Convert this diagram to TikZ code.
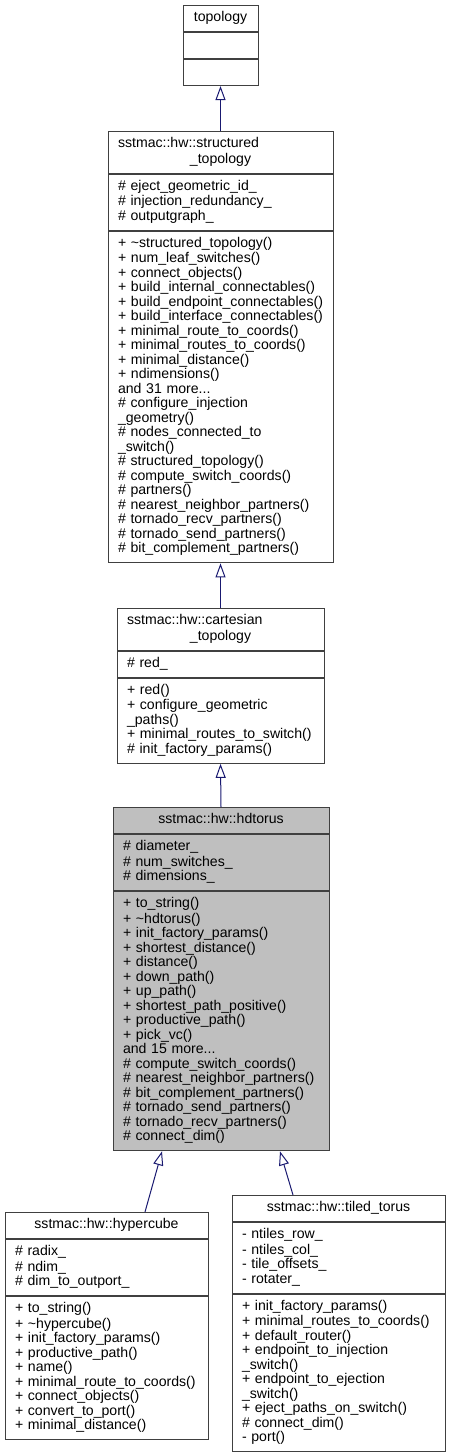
\documentclass[tikz,border=0pt]{standalone}
\usepackage{fontspec}
\setmainfont{Liberation Sans}
\usepackage{tikz}
\usetikzlibrary{arrows.meta,positioning}
\definecolor{edgeblue}{HTML}{191970}
\definecolor{boxline}{HTML}{404040}
\definecolor{focusfill}{HTML}{BFBFBF}
\hyphenpenalty=10000
\exhyphenpenalty=10000

\begin{document}
\begin{tikzpicture}[x=1pt,y=-1pt,
  every node/.style={font=\fontsize{14.1}{14.5}\selectfont},
  part/.style={draw=boxline,line width=1pt,rectangle,inner xsep=10pt,inner ysep=5.75pt,align=left,
    execute at begin node=\strut,execute at end node=\strut},
  title/.style={part,align=center},
  focus/.style={fill=focusfill},
  inherit/.style={draw=edgeblue,line width=1pt,-{Triangle[open,length=14pt,width=10pt]}}]
\useasboundingbox (0,0) rectangle (448,1455);

\node[title,text width=55pt,anchor=north] (topo) at (220.5,5) {topology};
\node[part,text width=55pt,below=0pt of topo] (topoAttr) {};
\node[part,text width=55pt,below=0pt of topoAttr] (topoOps) {};

\node[title,text width=205pt,anchor=north] (struct) at (220.5,131) {\makebox[\linewidth][l]{sstmac::hw::structured}\\\_topology};
\node[part,text width=205pt,below=0pt of struct] (structAttr) {\#~eject\_geometric\_id\_\\\#~injection\_redundancy\_\\\#~outputgraph\_};
\node[part,text width=205pt,below=0pt of structAttr] (structOps) {+~\textasciitilde structured\_topology()\\+~num\_leaf\_switches()\\+~connect\_objects()\\+~build\_internal\_connectables()\\+~build\_endpoint\_connectables()\\+~build\_interface\_connectables()\\+~minimal\_route\_to\_coords()\\+~minimal\_routes\_to\_coords()\\+~minimal\_distance()\\+~ndimensions()\\and~31~more...\\\#~configure\_injection\\\_geometry()\\\#~nodes\_connected\_to\\\_switch()\\\#~structured\_topology()\\\#~compute\_switch\_coords()\\\#~partners()\\\#~nearest\_neighbor\_partners()\\\#~tornado\_recv\_partners()\\\#~tornado\_send\_partners()\\\#~bit\_complement\_partners()};

\node[title,text width=187pt,anchor=north] (cart) at (220.5,608) {\makebox[\linewidth][l]{sstmac::hw::cartesian}\\\_topology};
\node[part,text width=187pt,below=0pt of cart] (cartAttr) {\#~red\_};
\node[part,text width=187pt,below=0pt of cartAttr] (cartOps) {+~red()\\+~configure\_geometric\\\_paths()\\+~minimal\_routes\_to\_switch()\\\#~init\_factory\_params()};

\node[title,focus,text width=196pt,anchor=north] (hdt) at (221,807) {sstmac::hw::hdtorus};
\node[part,focus,text width=196pt,below=0pt of hdt] (hdtAttr) {\#~diameter\_\\\#~num\_switches\_\\\#~dimensions\_};
\node[part,focus,text width=196pt,below=0pt of hdtAttr] (hdtOps) {+~to\_string()\\+~\textasciitilde hdtorus()\\+~init\_factory\_params()\\+~shortest\_distance()\\+~distance()\\+~down\_path()\\+~up\_path()\\+~shortest\_path\_positive()\\+~productive\_path()\\+~pick\_vc()\\and~15~more...\\\#~compute\_switch\_coords()\\\#~nearest\_neighbor\_partners()\\\#~bit\_complement\_partners()\\\#~tornado\_send\_partners()\\\#~tornado\_recv\_partners()\\\#~connect\_dim()};

\node[title,text width=183pt,anchor=north] (hyper) at (106.5,1212) {sstmac::hw::hypercube};
\node[part,text width=183pt,below=0pt of hyper] (hyperAttr) {\#~radix\_\\\#~ndim\_\\\#~dim\_to\_outport\_};
\node[part,text width=183pt,below=0pt of hyperAttr] (hyperOps) {+~to\_string()\\+~\textasciitilde hypercube()\\+~init\_factory\_params()\\+~productive\_path()\\+~name()\\+~minimal\_route\_to\_coords()\\+~connect\_objects()\\+~convert\_to\_port()\\+~minimal\_distance()};

\node[title,text width=193pt,anchor=north] (tiled) at (338.5,1195) {sstmac::hw::tiled\_torus};
\node[part,text width=193pt,below=0pt of tiled] (tiledAttr) {-~ntiles\_row\_\\-~ntiles\_col\_\\-~tile\_offsets\_\\-~rotater\_};
\node[part,text width=193pt,below=0pt of tiledAttr] (tiledOps) {+~init\_factory\_params()\\+~minimal\_routes\_to\_coords()\\+~default\_router()\\+~endpoint\_to\_injection\\\_switch()\\+~endpoint\_to\_ejection\\\_switch()\\+~eject\_paths\_on\_switch()\\\#~connect\_dim()\\-~port()};

\draw[inherit] (struct.north) -- (topoOps.south);
\draw[inherit] (cart.north) -- (structOps.south);
\draw[inherit] (hdt.north) -- (cartOps.south);
\draw[inherit] ([xshift=38.5pt]hyper.north) -- ([xshift=-59pt]hdtOps.south);
\draw[inherit] ([xshift=-45.5pt]tiled.north) -- ([xshift=59pt]hdtOps.south);
\end{tikzpicture}
\end{document}
